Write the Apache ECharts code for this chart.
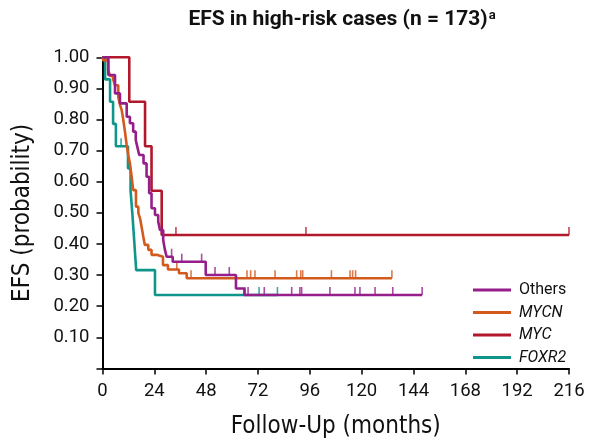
<!DOCTYPE html>
<html>
<head>
<meta charset="utf-8">
<script src="https://cdn.jsdelivr.net/npm/echarts@6/dist/echarts.min.js"></script>
<style>
  html, body { margin: 0; padding: 0; background: #fff; }
  #chart { width: 600px; height: 445px; }
</style>
</head>
<body>
<div id="chart"></div>
<script>
// Kaplan-Meier steps, [month, survival]
const othersEvents = [[0, 1], [2.7, 0.943], [5.8, 0.884], [8.1, 0.852], [11.2, 0.809], [12.7, 0.788],
  [14.2, 0.761], [15.4, 0.734], [16.1, 0.713], [17.0, 0.686], [19.0, 0.659], [20.4, 0.616],
  [21.6, 0.563], [22.7, 0.515], [24.3, 0.493], [25.8, 0.472], [26.6, 0.445], [28.1, 0.413],
  [28.9, 0.381], [29.7, 0.359], [32.5, 0.343], [47.8, 0.300], [61.8, 0.257], [65.7, 0.236]];
const othersCensor = [32, 36.7, 45.9, 52.1, 58.7, 67.4, 74.9, 87.6, 91.4, 92.2, 105.3, 116.9, 119.2, 126.2, 134.4, 148];

const mycnEvents = [[0, 1], [0.4, 0.99], [2.6, 0.96], [3.5, 0.94], [4.9, 0.93], [5.8, 0.91], [7.3, 0.873],
  [8.1, 0.847], [8.9, 0.83], [9.6, 0.80], [10.4, 0.761], [11.2, 0.718], [11.9, 0.686], [12.7, 0.659],
  [13.5, 0.616], [14.2, 0.573], [15.5, 0.52], [16.6, 0.499], [17.4, 0.482], [18.1, 0.455],
  [18.9, 0.423], [19.6, 0.397], [21.2, 0.381], [22.7, 0.365], [25.1, 0.359], [28.0, 0.332],
  [30.3, 0.318], [35.4, 0.306], [39.0, 0.29]];
const mycnCensor = [34.4, 41, 66.9, 68.6, 70.6, 79.9, 89.9, 91.8, 92.7, 106, 114.6, 115.8, 117.2, 134];

const mycEvents = [[0, 1], [12.4, 0.857], [19.7, 0.714], [22.7, 0.571], [27.4, 0.429]];
const mycCensor = [34, 94.2, 216];

const foxr2Events = [[0, 1], [1.2, 0.929], [3.5, 0.857], [4.9, 0.786], [6.2, 0.714], [11.8, 0.643],
  [13.0, 0.571], [13.8, 0.5], [14.5, 0.429], [15.2, 0.357], [15.6, 0.316], [24.3, 0.236]];
const foxr2Censor = [8.6, 66, 72.5, 81];

const xTicks = [0, 24, 48, 72, 96, 120, 144, 168, 192, 216];

const groups = [
  { name: 'Others', color: '#961e8a', events: othersEvents, censor: othersCensor },
  { name: 'MYCN', color: '#d35a1d', events: mycnEvents, censor: mycnCensor },
  { name: 'MYC', color: '#b2182b', events: mycEvents, censor: mycCensor },
  { name: 'FOXR2', color: '#0f958a', events: foxr2Events, censor: foxr2Censor },
];

const narrow = '"DejaVu Sans Condensed", "Liberation Sans Narrow", Roboto, sans-serif';

function survAt(events, t) {
  let s = 1;
  for (const [tt, v] of events) if (tt <= t) s = v;
  return s;
}

const series = [];
// draw in reverse so Others sits on top like the figure
groups.slice().reverse().forEach(g => {
  const last = g.events[g.events.length - 1];
  const end = Math.max(last[0], ...g.censor);
  series.push({
    name: g.name,
    type: 'line',
    step: 'end',
    symbol: 'none',
    data: g.events.concat([[end, last[1]]]),
    lineStyle: { color: g.color, width: 2.6 },
    itemStyle: { color: g.color },
  });
  series.push({
    name: g.name + '-censor',
    type: 'scatter',
    symbol: 'rect',
    symbolSize: [1.6, 8],
    symbolOffset: [0, -4],
    data: g.censor.map(t => [t, survAt(g.events, t)]),
    itemStyle: { color: g.color },
    silent: true,
  });
});

const chart = echarts.init(document.getElementById('chart'));
chart.setOption({
  animation: false,
  title: {
    text: 'EFS in high-risk cases (n = 173){sup|a}',
    left: 337,
    textAlign: 'center',
    top: 4,
    textStyle: {
      fontFamily: 'Roboto',
      fontWeight: 'bold',
      fontSize: 21,
      color: '#111',
      rich: {
        sup: { fontFamily: 'Roboto', fontWeight: 'bold', fontSize: 13, color: '#111', verticalAlign: 'top', padding: [0, 0, 9, 1] },
      },
    },
  },
  legend: {
    data: groups.map(g => g.name),
    orient: 'vertical',
    left: 468,
    top: 277,
    icon: 'rect',
    itemWidth: 38,
    itemHeight: 3,
    itemGap: 6.5,
    formatter: n => (n === 'Others' ? n : '{i|' + n + '}'),
    textStyle: {
      fontFamily: 'Roboto',
      fontSize: 16,
      color: '#111',
      padding: [0, 0, 0, 3],
      rich: { i: { fontFamily: 'Roboto', fontSize: 16, fontStyle: 'italic', color: '#111' } },
    },
  },
  grid: { left: 102.5, right: 31, top: 57.3, bottom: 76.6 },
  xAxis: {
    type: 'value',
    min: xTicks[0],
    max: xTicks[xTicks.length - 1],
    interval: 24,
    name: 'Follow-Up (months)',
    nameLocation: 'middle',
    nameGap: 46,
    nameTextStyle: { fontFamily: narrow, fontSize: 24, color: '#111' },
    axisLine: { lineStyle: { color: '#000', width: 2 } },
    axisTick: { show: true, length: 6, lineStyle: { color: '#000', width: 1.5 } },
    axisLabel: { fontFamily: 'Roboto', fontSize: 18.5, color: '#111', margin: 13 },
    splitLine: { show: false },
  },
  yAxis: {
    type: 'value',
    min: 0,
    max: 1,
    interval: 0.1,
    name: 'EFS (probability)',
    nameLocation: 'middle',
    nameGap: 68,
    nameTextStyle: { fontFamily: narrow, fontSize: 24, color: '#111' },
    axisLine: { show: true, lineStyle: { color: '#000', width: 2 } },
    axisTick: {
      show: true, length: 6, lineStyle: { color: '#000', width: 1.5 },
    },
    axisLabel: {
      fontFamily: 'Roboto', fontSize: 18.5, color: '#111', margin: 13,
      formatter: v => (v === 0 ? '' : v.toFixed(2)),
    },
    splitLine: { show: false },
  },
  series: series,
});
</script>
</body>
</html>
